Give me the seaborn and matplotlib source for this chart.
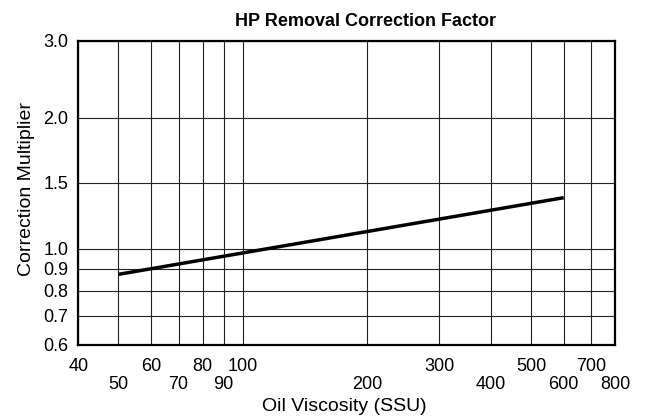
import numpy as np
import pandas as pd
import matplotlib
matplotlib.use("Agg")
import matplotlib.pyplot as plt
import seaborn as sns

# ---- data ----
viscosity = [50, 600]
multiplier = [0.873, 1.37]
x_major = [40, 60, 80, 100, 300, 500, 700]
x_minor = [50, 70, 90, 200, 400, 600, 800]
y_ticks = [0.6, 0.7, 0.8, 0.9, 1.0, 1.5, 2.0, 3.0]
y_tick_labels = ["0.6", "0.7", "0.8", "0.9", "1.0", "1.5", "2.0", "3.0"]

title = "HP Removal Correction Factor"
xlabel = "Oil Viscosity (SSU)"
ylabel = "Correction Multiplier"

# the printed chart's y axis: log-like spacing with hand-placed gridlines
y_grid_height = [0, 29, 54, 76, 96, 161.7, 227, 303.7]

sns.set_theme(style="white")
plt.rcParams["font.family"] = ["Liberation Sans", "DejaVu Sans"]

lt = np.log10(y_ticks)
hh = np.array(y_grid_height, dtype=float)


def _interp_ext(v, xp, fp):
    v = np.asarray(v, dtype=float)
    out = np.interp(v, xp, fp)
    s0 = (fp[1] - fp[0]) / (xp[1] - xp[0])
    s1 = (fp[-1] - fp[-2]) / (xp[-1] - xp[-2])
    out = np.where(v < xp[0], fp[0] + (v - xp[0]) * s0, out)
    out = np.where(v > xp[-1], fp[-1] + (v - xp[-1]) * s1, out)
    return out


def fwd(y):
    y = np.clip(np.asarray(y, dtype=float), 1e-6, None)
    return _interp_ext(np.log10(y), lt, hh)


def inv(h):
    return 10 ** _interp_ext(h, hh, lt)


df = pd.DataFrame({"Viscosity": viscosity, "Multiplier": multiplier})

fig = plt.figure(figsize=(6.52, 4.2), dpi=100)
ax = fig.add_axes([0.120, 0.1793, 0.8237, 0.7231])

sns.lineplot(data=df, x="Viscosity", y="Multiplier", ax=ax, color="black",
             linewidth=2.5, solid_capstyle="butt")

ax.set_xscale("log")
ax.set_yscale("function", functions=(fwd, inv))
ax.set_xlim(40, 800)
ax.set_ylim(0.6, 3.0)

ax.set_xticks(x_major)
ax.set_xticks(x_minor, minor=True)
ax.xaxis.set_major_formatter(matplotlib.ticker.FixedFormatter([str(v) for v in x_major]))
ax.xaxis.set_minor_formatter(matplotlib.ticker.FixedFormatter([str(v) for v in x_minor]))
ax.set_yticks(y_ticks)
ax.set_yticklabels(y_tick_labels)
ax.yaxis.set_minor_locator(matplotlib.ticker.NullLocator())

ax.tick_params(axis="x", which="major", length=0, pad=9.3, labelsize=13, colors="black")
ax.tick_params(axis="x", which="minor", length=0, pad=22.5, labelsize=13, colors="black")
ax.tick_params(axis="y", which="major", length=0, pad=7, labelsize=13, colors="black")

ax.grid(True, which="both", axis="x", color="#222222", linewidth=0.8)
ax.grid(True, which="major", axis="y", color="#222222", linewidth=0.8)
ax.set_axisbelow(True)

for sp in ax.spines.values():
    sp.set_visible(True)
    sp.set_color("black")
    sp.set_linewidth(1.6)

ax.set_xlabel(xlabel, fontsize=14, color="black")
ax.set_ylabel(ylabel, fontsize=14, color="black")
ax.xaxis.label.set_va("baseline")
ax.xaxis.set_label_coords(0.4963, -0.2183)
ax.yaxis.set_label_coords(-0.0814, 0.513)
ax.text(0.535, 1.0504, title, transform=ax.transAxes, ha="center", va="baseline",
        fontsize=13, fontweight="bold", color="black")

fig.savefig("out.png", dpi=100)
